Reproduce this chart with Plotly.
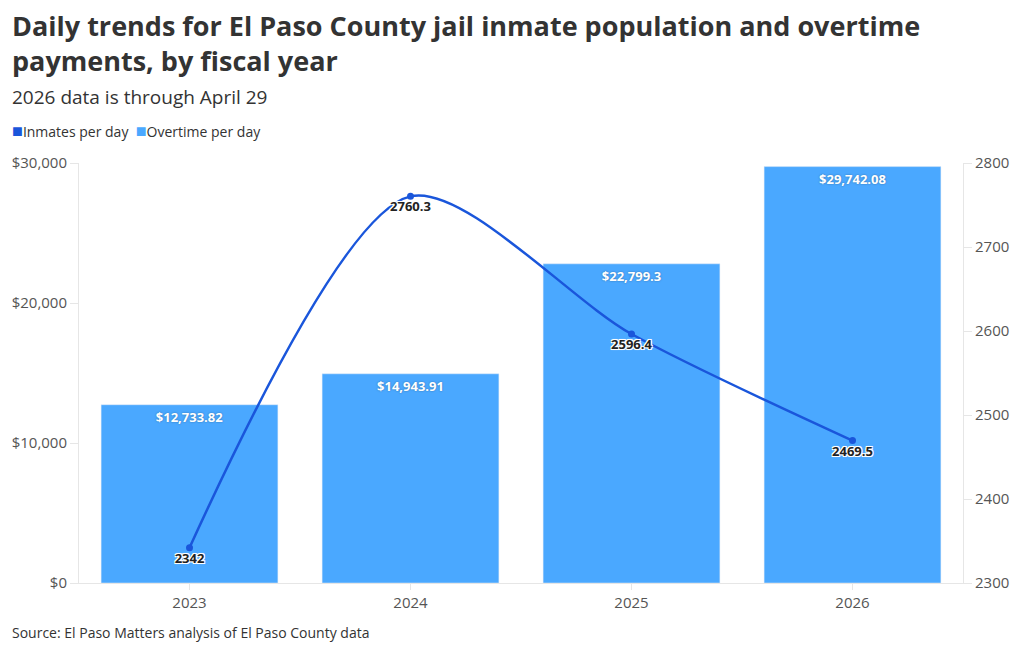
import plotly.graph_objects as go

# fiscal years and values
years = ['2023', '2024', '2025', '2026']
overtime_per_day = [12733.82, 14943.91, 22799.3, 29742.08]
inmates_per_day = [2342, 2760.3, 2596.4, 2469.5]

font_family = '"Open Sans", Roboto, sans-serif'
line_color = '#1a56db'
bar_color = '#4aa8ff'
axis_color = '#e6e6e6'
halo = '-1px -1px 0 #fff, 1px -1px 0 #fff, -1px 1px 0 #fff, 1px 1px 0 #fff, 0 0 2px #fff'

fig = go.Figure()

fig.add_trace(go.Bar(x=years, y=overtime_per_day, name='Overtime per day',
                     marker_color=bar_color,
                     text=[f'${v:,}' for v in overtime_per_day],
                     textposition='inside', insidetextanchor='end',
                     textfont=dict(color='white', size=13, weight='bold',
                                   shadow='0px 0px 2px rgba(0,0,0,0.35)'),
                     hoverinfo='skip'))

fig.add_trace(go.Scatter(x=years, y=inmates_per_day, name='Inmates per day', yaxis='y2',
                         mode='lines+markers+text',
                         line=dict(color=line_color, width=2.5, shape='spline', smoothing=0.8),
                         marker=dict(size=7, color=line_color),
                         text=[str(v) for v in inmates_per_day],
                         textposition='bottom center',
                         textfont=dict(color='#222', size=13, weight='bold', shadow=halo)))

# legend drawn as text so the swatches sit right next to the labels
swatch = '<span style="color:{};font-size:18px">■</span>'
legend_text = (swatch.format(line_color) + 'Inmates per day  '
               + swatch.format(bar_color) + 'Overtime per day')

# the page body adds an 8px offset, so the figure is 8px smaller than the window
fig.update_layout(
    width=1012, height=644,
    margin=dict(l=71, r=57, t=155, b=69, autoexpand=False),
    paper_bgcolor='white', plot_bgcolor='white',
    font=dict(family=font_family, color='#444'),
    bargap=0.2,
    showlegend=False,
    xaxis=dict(type='category', domain=[0, 1], showline=True, linecolor=axis_color,
               ticks='outside', tickcolor=axis_color, ticklen=6,
               tickfont=dict(size=15, color='#555'), showgrid=False, automargin=False),
    yaxis=dict(range=[0, 30000], tickvals=[0, 10000, 20000, 30000], tickformat='$,.0f',
               showgrid=False, showline=True, linecolor=axis_color, ticks='outside',
               tickcolor=axis_color, ticklen=8, automargin=False,
               tickfont=dict(size=15, color='#555'), zeroline=False),
    yaxis2=dict(range=[2300, 2800], tickvals=[2300, 2400, 2500, 2600, 2700, 2800],
                overlaying='y', side='right', showgrid=False, showline=True,
                linecolor=axis_color, ticks='outside', tickcolor=axis_color, ticklen=8,
                tickfont=dict(size=15, color='#555'), automargin=False, zeroline=False),
    annotations=[
        dict(text='<b>Daily trends for El Paso County jail inmate population and overtime'
                  '<br>payments, by fiscal year</b>',
             xref='paper', yref='paper', x=-0.078, y=1.285, xanchor='left', yanchor='middle',
             align='left', showarrow=False, font=dict(size=27, color='#333')),
        dict(text='2026 data is through April 29', xref='paper', yref='paper',
             x=-0.078, y=1.157, xanchor='left', yanchor='middle', showarrow=False,
             font=dict(size=19, color='#333')),
        dict(text=legend_text, xref='paper', yref='paper',
             x=-0.078, y=1.078, xanchor='left', yanchor='middle', showarrow=False,
             font=dict(size=14, color='#333')),
        dict(text='Source: El Paso Matters analysis of El Paso County data', xref='paper',
             yref='paper', x=-0.078, y=-0.117, xanchor='left', yanchor='middle',
             showarrow=False, font=dict(size=14, color='#333')),
    ],
)

fig.write_html('out.html')
